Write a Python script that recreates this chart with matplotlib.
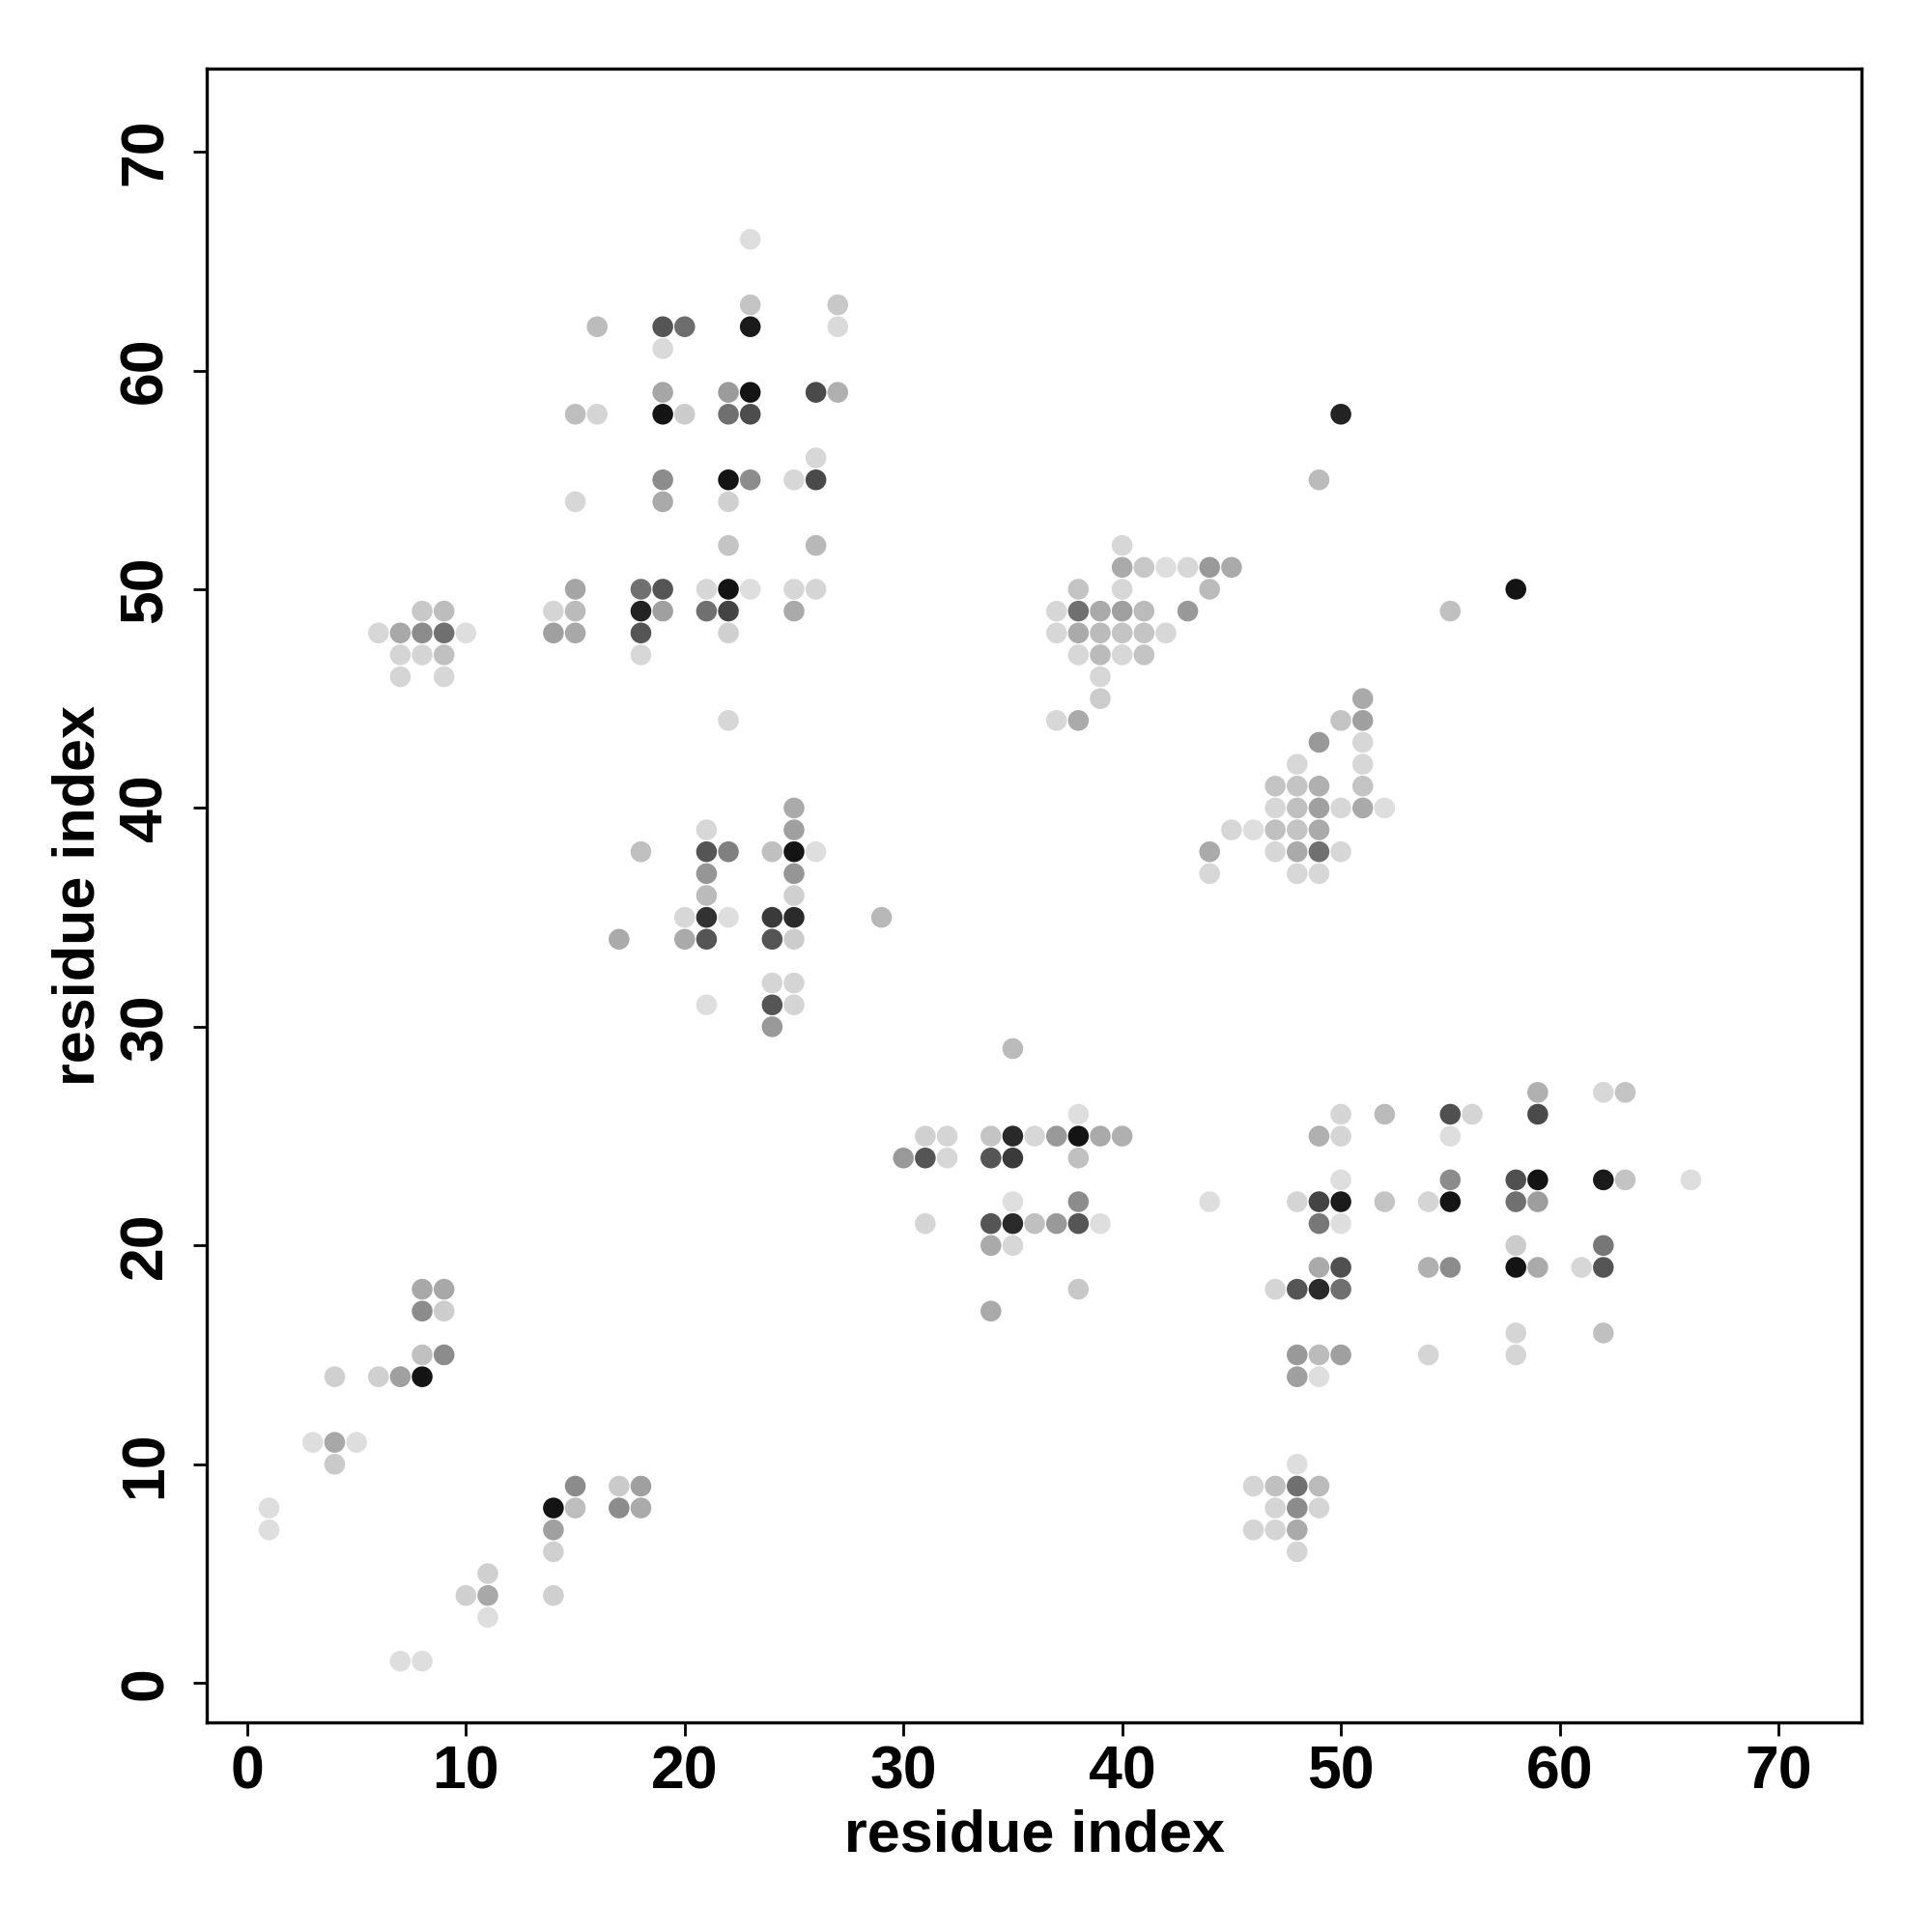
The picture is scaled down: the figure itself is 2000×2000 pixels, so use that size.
import matplotlib
matplotlib.use("Agg")
import matplotlib.pyplot as plt
import numpy as np

plt.rcParams['font.family'] = ['Liberation Sans', 'DejaVu Sans']

# contact points: residue i, residue j, grey level (0 = black, 255 = white)
res_i = [
    8, 9, 8, 9, 8, 9, 4, 6, 7, 8, 3, 4, 5, 4,
    15, 17, 18, 14, 15, 17, 18, 14, 14, 1, 1, 11, 10, 11, 11, 14, 7, 8,
    16, 15, 16,
    23, 23, 27, 19, 20, 23, 27, 19, 19, 22, 23, 26, 27, 19, 20, 22, 23, 26,
    15, 15, 14, 15, 14, 15, 8, 9, 6, 7, 8, 9, 10, 7, 8, 9, 7, 9,
    19, 22, 23, 25, 26, 19, 22, 22, 26, 18, 19, 21, 22, 23, 25, 26,
    18, 19, 21, 22, 25, 18, 22, 18, 22,
    25, 25, 21, 18, 21, 22, 24, 25, 26, 21, 25, 21, 25, 20, 21, 22, 24, 25, 29,
    17, 20, 21, 24, 25, 24, 25, 21, 24, 25, 24,
    35, 38, 31, 32, 34, 35, 36, 37, 38, 39, 40, 30, 31, 32, 34, 35, 38,
    35, 38, 31, 34, 35, 36, 37, 38, 39, 34, 35, 38, 34,
    40, 40, 41, 42, 43, 44, 45, 38, 40, 44, 37, 38, 39, 40, 41, 43,
    37, 38, 39, 40, 41, 42, 38, 39, 40, 41, 39, 39, 37, 38,
    51, 50, 51, 49, 51, 48, 51, 47, 48, 49, 51, 47, 48, 49, 50, 51, 52,
    45, 46, 47, 48, 49, 44, 47, 48, 49, 50, 44, 48, 49,
    50, 52, 55, 56, 49, 50, 55, 50, 55, 44, 48, 49, 50, 52, 54, 55, 49, 50,
    49, 50, 54, 55, 47, 48, 49, 50,
    59, 62, 63, 59, 58, 59, 62, 63, 66, 58, 59, 58, 62, 58, 59, 61, 62, 58, 62, 58, 54,
    48, 49, 50, 48, 49, 48, 46, 47, 48, 49, 47, 48, 49, 46, 47, 48, 48,
    49, 50, 55, 58,
]
res_j = [
    18, 18, 17, 17, 15, 15, 14, 14, 14, 14, 11, 11, 11, 10,
    9, 9, 9, 8, 8, 8, 8, 7, 6, 8, 7, 5, 4, 4, 3, 4, 1, 1,
    62, 58, 58,
    66, 63, 63, 62, 62, 62, 62, 61, 59, 59, 59, 59, 59, 58, 58, 58, 58, 56,
    54, 50, 49, 49, 48, 48, 49, 49, 48, 48, 48, 48, 48, 47, 47, 47, 46, 46,
    55, 55, 55, 55, 55, 54, 54, 52, 52, 50, 50, 50, 50, 50, 50, 50,
    49, 49, 49, 49, 49, 48, 48, 47, 44,
    40, 39, 39, 38, 38, 38, 38, 38, 38, 37, 37, 36, 36, 35, 35, 35, 35, 35, 35,
    34, 34, 34, 34, 34, 32, 32, 31, 31, 31, 30,
    29, 26, 25, 25, 25, 25, 25, 25, 25, 25, 25, 24, 24, 24, 24, 24, 24,
    22, 22, 21, 21, 21, 21, 21, 21, 21, 20, 20, 18, 17,
    52, 51, 51, 51, 51, 51, 51, 50, 50, 50, 49, 49, 49, 49, 49, 49,
    48, 48, 48, 48, 48, 48, 47, 47, 47, 47, 46, 45, 44, 44,
    45, 44, 44, 43, 43, 42, 42, 41, 41, 41, 41, 40, 40, 40, 40, 40, 40,
    39, 39, 39, 39, 39, 38, 38, 38, 38, 38, 37, 37, 37,
    26, 26, 26, 26, 25, 25, 25, 23, 23, 22, 22, 22, 22, 22, 22, 22, 21, 21,
    19, 19, 19, 19, 18, 18, 18, 18,
    27, 27, 27, 26, 23, 23, 23, 23, 23, 22, 22, 20, 20, 19, 19, 19, 19, 16, 16, 15, 15,
    15, 15, 15, 14, 14, 10, 9, 9, 9, 9, 8, 8, 8, 7, 7, 7, 6,
    55, 58, 49, 50,
]
grey = [
    168, 168, 140, 205, 192, 140, 208, 208, 160, 20, 222, 168, 222, 202,
    140, 202, 160, 20, 190, 140, 170, 160, 208, 222, 222, 208, 208, 168, 222, 208, 222, 222,
    188, 190, 213,
    222, 196, 200, 85, 110, 26, 218, 218, 166, 155, 20, 74, 176, 20, 204, 112, 77, 215,
    215, 165, 213, 187, 160, 168, 200, 189, 215, 168, 140, 112, 222, 213, 213, 192, 213, 215,
    140, 20, 140, 215, 74, 170, 208, 196, 184, 112, 85, 215, 20, 222, 215, 213,
    35, 160, 112, 68, 170, 85, 208, 215, 215,
    170, 160, 215, 192, 85, 128, 192, 20, 222, 150, 150, 187, 208, 215, 50, 222, 58, 42, 184,
    170, 170, 85, 85, 204, 213, 213, 222, 85, 213, 153,
    187, 222, 208, 213, 196, 42, 215, 153, 20, 170, 176, 153, 85, 215, 85, 58, 192,
    222, 140, 213, 85, 42, 192, 153, 85, 222, 170, 215, 200, 170,
    215, 170, 200, 222, 215, 153, 170, 196, 215, 187, 215, 112, 170, 160, 187, 153,
    215, 170, 187, 196, 196, 215, 215, 187, 215, 196, 215, 204, 215, 170,
    170, 196, 160, 153, 215, 215, 215, 196, 196, 176, 196, 215, 192, 160, 215, 170, 222,
    215, 222, 192, 196, 170, 170, 215, 170, 112, 215, 215, 215, 215,
    213, 187, 80, 213, 176, 213, 222, 222, 140, 222, 213, 68, 26, 196, 213, 20, 119, 222,
    170, 80, 176, 140, 213, 85, 42, 112,
    176, 215, 196, 74, 80, 20, 26, 196, 222, 112, 158, 204, 119, 20, 170, 215, 85, 213, 192, 213, 213,
    153, 187, 160, 160, 222, 222, 213, 192, 112, 187, 213, 140, 213, 213, 213, 170, 213,
    187, 35, 192, 20,
]

cols = [(g / 255, g / 255, g / 255) for g in grey]

fig = plt.figure(figsize=(10, 10), dpi=200)
ax = fig.add_axes([0.107, 0.1085, 0.8565, 0.856])

ax.scatter(res_i, res_j, s=60, c=cols, edgecolors='none', zorder=3)

ax.set_xlim(-1.85, 73.8)
ax.set_ylim(-1.8, 73.8)
ax.set_xticks(np.arange(0, 71, 10))
ax.set_yticks(np.arange(0, 71, 10))
ax.tick_params(axis='both', direction='out', length=5, width=1.0,
               labelsize=22.5, pad=3)
ax.tick_params(axis='y', pad=7)
for lab in ax.get_xticklabels():
    lab.set_fontweight('bold')
for lab in ax.get_yticklabels():
    lab.set_fontweight('bold')
    lab.set_rotation(90)
    lab.set_verticalalignment('center')

for sp in ax.spines.values():
    sp.set_linewidth(1.2)

ax.set_xlabel("residue index", fontsize=22, fontweight='bold', labelpad=3)
ax.set_ylabel("residue index", fontsize=22, fontweight='bold', labelpad=4)

plt.savefig("out.png", dpi=200)
plt.close()
